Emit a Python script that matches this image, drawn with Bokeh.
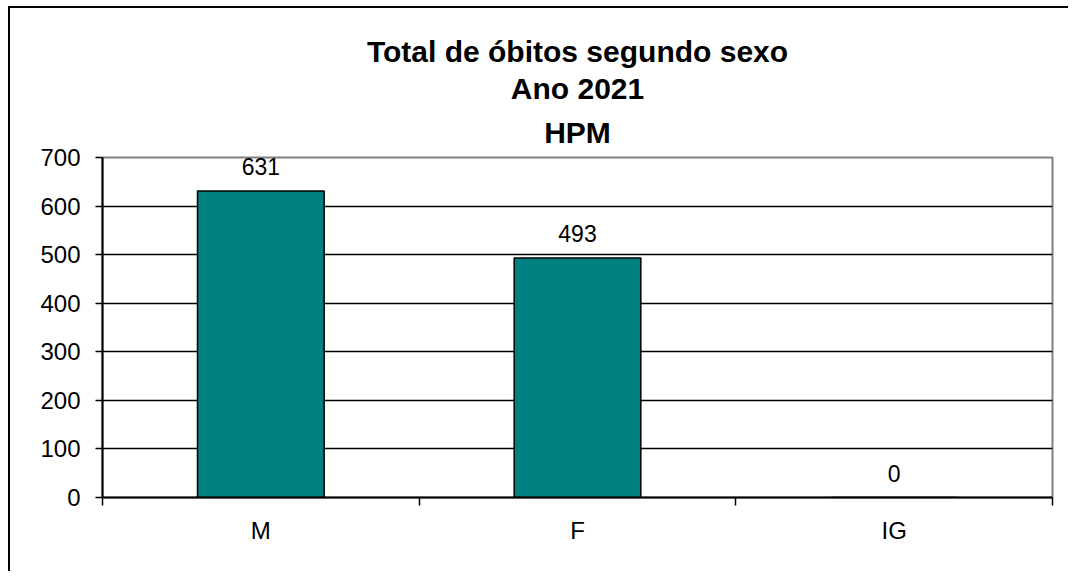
from bokeh.plotting import figure
from bokeh.models import Range1d, FixedTicker, ColumnDataSource, LabelSet, Title
from bokeh.core.properties import value
from bokeh.embed import file_html
from bokeh.resources import INLINE

categories = ["M", "F", "IG"]
values = [631, 493, 0]
y_ticks = [0, 100, 200, 300, 400, 500, 600, 700]
title_lines = ["Total de óbitos segundo sexo", "Ano 2021", "HPM"]

FONT = "Liberation Sans"
positions = [i + 0.5 for i in range(len(categories))]
boundaries = [float(i) for i in range(len(categories) + 1)]

src = ColumnDataSource(dict(x=positions, top=values, label=[str(v) for v in values]))

p = figure(width=1060, height=565, output_backend="svg", toolbar_location=None,
           x_range=Range1d(0, len(categories)), y_range=Range1d(0, 700),
           min_border_left=92, min_border_right=18, min_border_top=149,
           min_border_bottom=76)
p.styles = {"margin-left": "8px", "margin-top": "6px",
            "border-top": "2px solid black", "border-left": "2px solid black"}

p.vbar(x="x", top="top", width=0.4, source=src, fill_color="#008080",
       line_color="black", line_width=1.5)

labels = LabelSet(x="x", y="top", text="label", source=src, y_offset=16,
                  text_align="center", text_baseline="bottom",
                  text_font=value(FONT), text_font_size="23px", text_color="black")
p.add_layout(labels)

standoffs = [18, 0, 3]  # HPM, Ano 2021, first line
for line, so in zip(reversed(title_lines), standoffs):
    t = Title(text=line, align="center", text_font=FONT,
              text_font_size="30px", text_font_style="bold", text_color="black",
              standoff=so)
    p.add_layout(t, "above")

# axes
p.xaxis.ticker = FixedTicker(ticks=positions, minor_ticks=boundaries)
p.xaxis.major_label_overrides = {pos: c for pos, c in zip(positions, categories)}
p.xaxis.major_tick_line_color = None
p.xaxis.minor_tick_in = 0
p.xaxis.minor_tick_out = 8
p.xaxis.minor_tick_line_color = "black"
p.xaxis.minor_tick_line_width = 1.5
p.xaxis.axis_line_color = "black"
p.xaxis.axis_line_width = 2
p.xaxis.major_label_text_font = FONT
p.xaxis.major_label_text_font_size = "24px"
p.xaxis.major_label_text_color = "black"
p.xaxis.major_label_standoff = 11

p.yaxis.ticker = FixedTicker(ticks=y_ticks)
p.yaxis.minor_tick_line_color = None
p.yaxis.major_tick_in = 0
p.yaxis.major_tick_out = 7
p.yaxis.major_tick_line_color = "black"
p.yaxis.major_tick_line_width = 1.5
p.yaxis.axis_line_color = "black"
p.yaxis.axis_line_width = 2
p.yaxis.major_label_text_font = FONT
p.yaxis.major_label_text_font_size = "24px"
p.yaxis.major_label_text_color = "black"
p.yaxis.major_label_standoff = 15

p.xgrid.grid_line_color = None
p.ygrid.ticker = FixedTicker(ticks=y_ticks[1:-1])
p.ygrid.grid_line_color = "black"
p.ygrid.grid_line_width = 1.5

p.outline_line_color = "#808080"
p.outline_line_width = 2
p.background_fill_color = "white"
p.border_fill_color = "white"

open("out.html", "w").write(file_html(p, INLINE))
